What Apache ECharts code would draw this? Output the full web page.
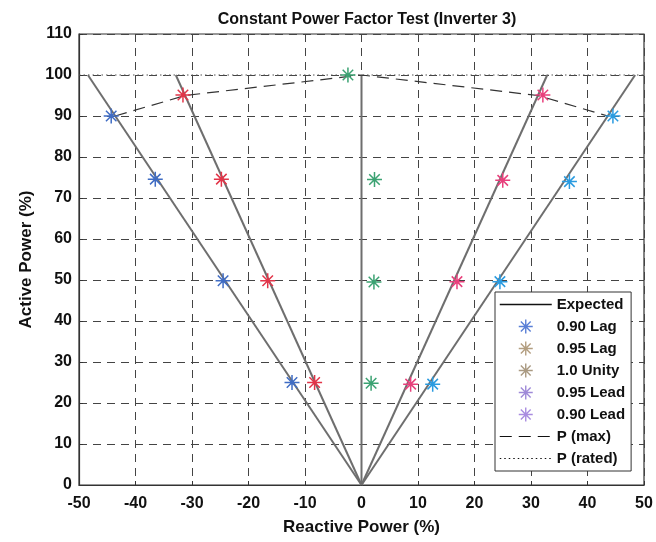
<!DOCTYPE html>
<html><head><meta charset="utf-8">
<script src="https://cdn.jsdelivr.net/npm/echarts@6/dist/echarts.min.js"></script>
<style>html,body{margin:0;padding:0;background:#fff}#c{width:656px;height:542px}</style>
</head><body><div id="c"></div>
<script>
// ---- data ----
const xMin = -50, xMax = 50, xStep = 10;
const yMin = 0, yMax = 110, yStep = 10;

const lag90Q  = [-44.3, -36.5, -24.5, -12.3];
const lag90P  = [90, 74.6, 49.8, 25.0];
const lag95Q  = [-31.6, -24.8, -16.6, -8.3];
const lag95P  = [95.1, 74.6, 49.8, 25.0];
const unityQ  = [-2.4, 2.3, 2.2, 1.7];
const unityP  = [100, 74.5, 49.5, 24.8];
const lead95Q = [32.1, 25.0, 16.9, 8.7];
const lead95P = [95.1, 74.3, 49.6, 24.6];
const lead90Q = [44.5, 36.8, 24.5, 12.6];
const lead90P = [90, 74.0, 49.6, 24.6];

const expectedTopQ = [-48.43, -32.87, 0, 32.87, 48.43];
const expectedTopP = [100, 100, 100, 100, 100];
const originQP = [0, 0];

const pmaxQ = [-43.6, -31.2, 0, 31.2, 43.6];
const pmaxP = [90, 95, 100, 95, 90];

const pratedQ = [-50, 50];
const pratedP = [100, 100];

const seriesNames = ['Expected','0.90 Lag','0.95 Lag','1.0 Unity','0.95 Lead','0.90 Lead','P (max)','P (rated)'];

// ---- styles ----
const plotColors = {'0.90 Lag':'#3f6cc4','0.95 Lag':'#e23448','1.0 Unity':'#3ba272','0.95 Lead':'#e8407c','0.90 Lead':'#2a9be0'};
const legendColors = {'0.90 Lag':'#5a7fd6','0.95 Lag':'#b39e80','1.0 Unity':'#aa9a82','0.95 Lead':'#9f8ad8','0.90 Lead':'#a98ce0'};
const star = 'path://M9,0L11,0L11,20L9,20Z M0,9L20,9L20,11L0,11Z M2.3,3.7L3.7,2.3L17.7,16.3L16.3,17.7Z M16.3,2.3L17.7,3.7L3.7,17.7L2.3,16.3Z';
const font = 'Liberation Sans, Arial, sans-serif';

const zip = (a, b) => a.map((v, i) => [v, b[i]]);

const series = [];
expectedTopQ.forEach((q, i) => {
  series.push({
    name: 'Expected', type: 'line', symbol: 'none', silent: true, z: 2,
    lineStyle: {color: '#6e6e6e', width: 2},
    data: [originQP, [q, expectedTopP[i]]]
  });
});
series.push({
  name: 'P (max)', type: 'line', symbol: 'none', z: 3,
  lineStyle: {color: '#333', width: 1.2, type: [12, 7]},
  data: zip(pmaxQ, pmaxP)
});
series.push({
  name: 'P (rated)', type: 'line', symbol: 'none', z: 1,
  lineStyle: {color: '#555', width: 1, type: [1.5, 3]},
  data: zip(pratedQ, pratedP)
});
const pts = {'0.90 Lag':[lag90Q,lag90P],'0.95 Lag':[lag95Q,lag95P],'1.0 Unity':[unityQ,unityP],'0.95 Lead':[lead95Q,lead95P],'0.90 Lead':[lead90Q,lead90P]};
Object.keys(pts).forEach(n => {
  series.push({
    name: n, type: 'scatter', symbol: star, symbolSize: 15, z: 5,
    itemStyle: {color: plotColors[n], opacity: 1},
    data: zip(pts[n][0], pts[n][1])
  });
});

const legendData = seriesNames.map(n => {
  const o = {name: n};
  if (legendColors[n]) o.itemStyle = {color: legendColors[n]};
  if (n === 'Expected') { o.lineStyle = {color: '#111', width: 1.5}; o.itemStyle = {opacity: 0}; }
  if (n === 'P (max)') { o.lineStyle = {color: '#111', width: 1.2, type: [12, 7]}; o.itemStyle = {opacity: 0}; }
  if (n === 'P (rated)') { o.lineStyle = {color: '#111', width: 1.2, type: [1.5, 3]}; o.itemStyle = {opacity: 0}; }
  return o;
});

const chart = echarts.init(document.getElementById('c'), null, {renderer: 'canvas'});
chart.setOption({
  animation: false,
  backgroundColor: '#fff',
  title: {
    text: 'Constant Power Factor Test (Inverter 3)',
    left: 362, top: 7, textAlign: 'center',
    textStyle: {fontFamily: font, fontSize: 16, fontWeight: 'bold', color: '#111'}
  },
  grid: {left: 79, right: 12, top: 34, bottom: 57, show: true, borderColor: '#333', borderWidth: 1.2, containLabel: false},
  xAxis: {
    type: 'value', min: xMin, max: xMax, interval: xStep,
    name: 'Reactive Power (%)', nameLocation: 'middle', nameGap: 34,
    nameTextStyle: {fontFamily: font, fontSize: 17, fontWeight: 'bold', color: '#111'},
    axisLine: {show: true, onZero: false, lineStyle: {color: '#333', width: 1.2}},
    axisTick: {show: true, inside: true, length: 4, lineStyle: {color: '#333'}},
    axisLabel: {fontFamily: font, fontSize: 16, fontWeight: 'bold', color: '#111', margin: 11},
    splitLine: {show: true, lineStyle: {color: '#444', width: 1, type: [8, 6]}}
  },
  yAxis: {
    type: 'value', min: yMin, max: yMax, interval: yStep,
    name: 'Active Power (%)', nameLocation: 'middle', nameGap: 42,
    nameTextStyle: {fontFamily: font, fontSize: 17, fontWeight: 'bold', color: '#111'},
    axisLine: {show: true, onZero: false, lineStyle: {color: '#333', width: 1.2}},
    axisTick: {show: true, inside: true, length: 4, lineStyle: {color: '#333'}},
    axisLabel: {fontFamily: font, fontSize: 16, fontWeight: 'bold', color: '#111', margin: 7},
    splitLine: {show: true, lineStyle: {color: '#444', width: 1, type: [8, 6]}}
  },
  legend: {
    orient: 'vertical', left: 495, top: 292,
    backgroundColor: '#fff', borderColor: '#333', borderWidth: 1,
    padding: [5, 6, 5, 4], itemGap: 7, itemWidth: 52, itemHeight: 14,
    textStyle: {fontFamily: font, fontSize: 15, fontWeight: 'bold', color: '#111'},
    data: legendData
  },
  series: series
});
</script>
</body></html>
